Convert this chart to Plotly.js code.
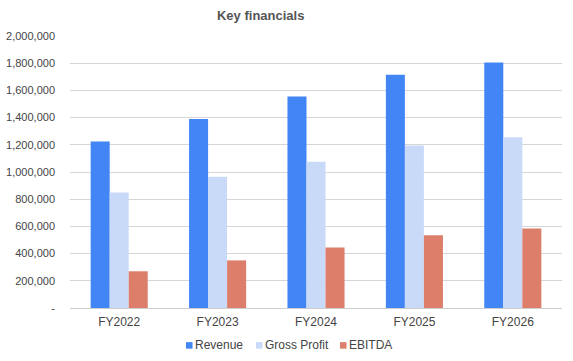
<!DOCTYPE html>
<html>
<head>
<meta charset="utf-8">
<script src="https://cdn.plot.ly/plotly-3.0.1.min.js"></script>
<style>html,body{margin:0;padding:0;background:#fff;}#chart{width:573px;height:361px;}</style>
</head>
<body>
<div id="chart"></div>
<script>
var categories = ["FY2022", "FY2023", "FY2024", "FY2025", "FY2026"];
var revenue = [1225000, 1390000, 1555000, 1715000, 1805000];
var grossProfit = [850000, 965000, 1075000, 1195000, 1255000];
var ebitda = [270000, 350000, 445000, 535000, 585000];
var seriesNames = ["Revenue", "Gross Profit", "EBITDA"];
var seriesColors = ["#4285F4", "#C9DAF8", "#DD7E6B"];
var yTickVals = [0, 200000, 400000, 600000, 800000, 1000000, 1200000, 1400000, 1600000, 1800000, 2000000];
var yTickText = ["-", "200,000", "400,000", "600,000", "800,000", "1,000,000", "1,200,000", "1,400,000", "1,600,000", "1,800,000", "2,000,000"];

var font = "Liberation Sans, Arial, sans-serif";
var seriesValues = [revenue, grossProfit, ebitda];
var data = seriesValues.map(function (vals, i) {
  return {type: "bar", name: seriesNames[i], x: categories, y: vals, marker: {color: seriesColors[i]}};
});

// Custom legend (Sheets style: small square + label)
var legendMarkX = [0.2358, 0.378, 0.5488];
var legendTextX = [0.250, 0.392, 0.563];
var shapes = [], annotations = [];
for (var i = 0; i < seriesNames.length; i++) {
  shapes.push({type: "rect", xref: "paper", yref: "paper", x0: legendMarkX[i], x1: legendMarkX[i] + 0.0132,
               y0: -0.1495, y1: -0.1255, fillcolor: seriesColors[i], line: {width: 0}});
  annotations.push({xref: "paper", yref: "paper", x: legendTextX[i], y: -0.137, xanchor: "left", yanchor: "middle",
                    text: seriesNames[i], showarrow: false, font: {family: font, size: 12, color: "#444"}});
}

var layout = {
  width: 573, height: 361,
  margin: {l: 70, r: 11, t: 36, b: 53},
  paper_bgcolor: "#fff", plot_bgcolor: "#fff",
  title: {text: "<b>Key financials</b>", x: 0.455, xanchor: "center", y: 0.956, yanchor: "middle",
          font: {family: font, size: 13, color: "#555"}},
  barmode: "group", bargap: 0.42, bargroupgap: 0,
  xaxis: {tickfont: {family: font, size: 12, color: "#444"}, showgrid: false, showline: false,
          ticks: "", ticklen: 0, ticklabelstandoff: 5, automargin: false},
  yaxis: {range: [0, 2000000], tickvals: yTickVals, ticktext: yTickText,
          tickfont: {family: font, size: 11, color: "#444"}, gridcolor: "#d6d6d6", gridwidth: 1,
          zeroline: true, zerolinecolor: "#cfcfcf", zerolinewidth: 1, ticks: "", ticklabelstandoff: 14, automargin: false},
  showlegend: false,
  shapes: shapes,
  annotations: annotations
};
Plotly.newPlot("chart", data, layout, {displayModeBar: false, staticPlot: true});
</script>
</body>
</html>
